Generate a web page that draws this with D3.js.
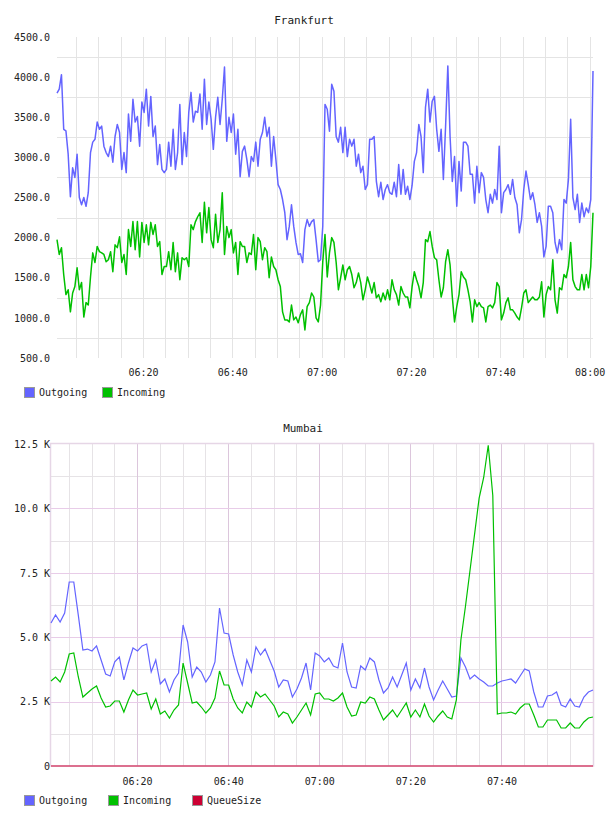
<!DOCTYPE html>
<html>
<head>
<meta charset="utf-8">
<script src="https://cdnjs.cloudflare.com/ajax/libs/d3/7.8.5/d3.min.js"></script>
<style>
  body { margin: 0; background: #fff; }
  svg text { font-family: "DejaVu Sans Mono", monospace; fill: #222; }
</style>
</head>
<body>
<div id="plot"></div>
<script>
// Frankfurt: one sample every 30 s starting 06:00:45
var fraStart = "06:00:45", fraStepSec = 30;
var fraOutgoing = [
  3800, 3850, 4030, 3350, 3330, 3040, 2510, 2870, 2750, 3040,
  2500, 2410, 2500, 2390, 2560, 3060, 3190, 3225, 3440, 3350,
  3390, 3140, 3060, 3010, 3140, 2940, 3260, 3410, 3310, 2850,
  3060, 2810, 3540, 3200, 3725, 3440, 3510, 3140, 3690, 3560,
  3850, 3390, 3760, 3260, 3390, 2910, 3160, 2850, 2810, 2850,
  3190, 2890, 3350, 2850, 3060, 3660, 2910, 3310, 3010, 3560,
  3810, 3440, 3575, 3560, 3790, 3350, 3975, 3410, 3690, 3475,
  3100, 3500, 3750, 3410, 3725, 4125, 3200, 3500, 3310, 3540,
  3040, 3350, 2760, 3075, 3140, 2975, 2760, 3010, 2950, 3190,
  2890, 3225, 3310, 3500, 3260, 3375, 2890, 3260, 2975, 2660,
  2600, 2475, 2310, 1975, 2140, 2410, 2140, 1940, 1790, 1800,
  1690, 2100, 2225, 2140, 2200, 2225, 1975, 1700, 1725, 2140,
  3660, 3600, 3325, 3910, 3825, 3260, 3190, 3375, 3060, 3375,
  3010, 3225, 3140, 3225, 2890, 3040, 2810, 2890, 2600, 2660,
  3225, 3225, 3260, 2700, 2510, 2690, 2475, 2600, 2660, 2560,
  2540, 2690, 2510, 2910, 2540, 2850, 2540, 2640, 2475, 2650,
  2950, 3060, 3410, 3260, 2810, 3625, 3850, 3440, 3700, 3760,
  3350, 3075, 3350, 2725, 3390, 4140, 3260, 2700, 3010, 2390,
  2950, 2580, 3190, 3190, 3140, 2790, 2790, 2430, 2890, 2560,
  2810, 2750, 2475, 2310, 2540, 2430, 2600, 2475, 3140, 2310,
  2560, 2600, 2660, 2540, 2725, 2500, 2410, 2060, 2225, 2600,
  2830, 2660, 2475, 2560, 2410, 2190, 2310, 2140, 1760, 1890,
  2390, 2390, 2310, 1940, 1810, 1975, 1850, 2475, 2430, 2725,
  3475, 2500, 2350, 2540, 2190, 2430, 2260, 2370, 2310, 2475,
  4075
];
var fraIncoming = [
  1975, 1790, 1875, 1540, 1290, 1350, 1075, 1310, 1390, 1625,
  1350, 1440, 1010, 1190, 1160, 1510, 1810, 1690, 1890, 1825,
  1810, 1790, 1700, 1725, 1825, 1575, 1910, 1875, 2010, 1690,
  1790, 1540, 2100, 1890, 2200, 1850, 2200, 1760, 2190, 1940,
  2160, 1910, 2190, 2040, 2160, 1890, 1950, 1540, 1640, 1640,
  1825, 1600, 1940, 1575, 1810, 1475, 1750, 1725, 1750, 1640,
  2160, 2100, 2200, 2260, 2310, 1940, 2440, 2060, 2375, 1975,
  1875, 2290, 1940, 2100, 2560, 1790, 2140, 2000, 2100, 1810,
  1940, 1540, 1950, 1890, 1890, 1690, 1810, 1790, 2040, 1600,
  2000, 1950, 1725, 1875, 1825, 1500, 1760, 1640, 1600, 1475,
  1390, 1075, 975, 975, 950, 1160, 975, 1010, 940, 1040,
  1100, 850, 1140, 1190, 1310, 1260, 1000, 950, 1160, 1700,
  2040, 1510, 1810, 2000, 1940, 1690, 1350, 1500, 1660, 1475,
  1600, 1640, 1540, 1375, 1440, 1560, 1440, 1225, 1350, 1510,
  1415, 1310, 1440, 1250, 1290, 1200, 1310, 1225, 1350, 1225,
  1475, 1350, 1290, 1160, 1390, 1310, 1260, 1260, 1125, 1390,
  1575, 1475, 1390, 1250, 1440, 1975, 1950, 2075, 1890, 1750,
  1725, 1475, 1260, 1375, 1700, 1850, 1660, 1260, 950, 1140,
  1290, 1575, 1510, 1475, 1350, 1200, 950, 1225, 1140, 1190,
  1140, 1125, 950, 1140, 1160, 1125, 1190, 1440, 1390, 975,
  1060, 1190, 1250, 1100, 1100, 1060, 1010, 975, 1125, 1310,
  1350, 1190, 1225, 1260, 1225, 1225, 1260, 1450, 1010, 1290,
  1390, 1350, 1725, 1225, 1060, 1375, 1350, 1540, 1500, 1640,
  1940, 1475, 1390, 1350, 1350, 1540, 1350, 1540, 1375, 1640,
  2310
];
var fraXTicks = ["06:20", "06:40", "07:00", "07:20", "07:40", "08:00"];
var fraYTicks = [500, 1000, 1500, 2000, 2500, 3000, 3500, 4000, 4500];

// Mumbai: one sample per minute starting 06:01:06
var mumStart = "06:01:06", mumStepSec = 60;
var mumOutgoing = [
  5551, 5862, 5590, 5940, 7143, 7143, 5850, 4503, 4540, 4465,
  4660, 4115, 3570, 3494, 4040, 4230, 3340, 4000, 4580, 4465,
  4660, 4736, 3650, 4115, 3183, 3377, 2873, 3340, 3610, 5474,
  4814, 3455, 3843, 3650, 3260, 3533, 4040, 6133, 5163, 5124,
  4309, 3650, 3144, 4115, 3650, 4620, 4309, 4540, 4115, 3688,
  3067, 3340, 3300, 2678, 2990, 3416, 3998, 2950, 4387, 4270,
  4040, 4193, 3882, 3804, 4775, 3650, 3067, 3028, 3882, 3727,
  4193, 4040, 3340, 2833, 3028, 3455, 3067, 3533, 3998, 2950,
  3377, 3028, 3804, 3067, 2562, 2950, 3300, 2990, 2678, 2717,
  4193, 3843, 3377, 3533, 3377, 3260, 3105, 3105, 3222, 3300,
  3340, 3377, 3222, 3494, 3765, 3688, 2873, 2290, 2290, 2717,
  2756, 2873, 2368, 2290, 2600, 2329, 2290, 2678, 2873, 2950
];
var mumIncoming = [
  3300, 3455, 3260, 3650, 4348, 4387, 3455, 2678, 2833, 2990,
  3105, 2640, 2290, 2329, 2523, 2523, 2096, 2562, 2950, 2756,
  2795, 2833, 2213, 2600, 2019, 2135, 1863, 2174, 2368, 3998,
  3222, 2446, 2484, 2290, 2057, 2251, 2640, 3688, 3144, 3144,
  2600, 2251, 2057, 2484, 2290, 2873, 2678, 2795, 2562, 2329,
  1902, 2096, 2019, 1669, 1902, 2174, 2446, 1980, 2795, 2833,
  2600, 2600, 2523, 2640, 2833, 2290, 1941, 1980, 2484, 2446,
  2678, 2600, 2174, 1786, 1980, 2174, 1902, 2174, 2446, 1902,
  2174, 1902, 2407, 1941, 1708, 1941, 2135, 1902, 1824, 2562,
  4900, 6200, 7600, 9000, 10400, 11200, 12450, 10500, 2019, 2057,
  2057, 2096, 2019, 2251, 2407, 2407, 1980, 1514, 1514, 1786,
  1786, 1786, 1475, 1475, 1669, 1475, 1475, 1708, 1863, 1902
];
var mumQueue = [
  0, 0, 0, 0, 0, 0, 0, 0, 0, 0, 0, 0, 0, 0, 0, 0, 0, 0, 0, 0,
  0, 0, 0, 0, 0, 0, 0, 0, 0, 0, 0, 0, 0, 0, 0, 0, 0, 0, 0, 0,
  0, 0, 0, 0, 0, 0, 0, 0, 0, 0, 0, 0, 0, 0, 0, 0, 0, 0, 0, 0,
  0, 0, 0, 0, 0, 0, 0, 0, 0, 0, 0, 0, 0, 0, 0, 0, 0, 0, 0, 0,
  0, 0, 0, 0, 0, 0, 0, 0, 0, 0, 0, 0, 0, 0, 0, 0, 0, 0, 0, 0,
  0, 0, 0, 0, 0, 0, 0, 0, 0, 0, 0, 0, 0, 0, 0, 0, 0, 0, 0, 0
];
var mumXTicks = ["06:20", "06:40", "07:00", "07:20", "07:40"];
var mumYTicks = [0, 2500, 5000, 7500, 10000, 12500];

var parseHM = d3.timeParse("%H:%M"),
    parseHMS = d3.timeParse("%H:%M:%S");

var blue = "#6464ff", green = "#00c000", red = "#cc0033";

var svg = d3.select("#plot")
  .append("svg")
    .attr("width", 608)
    .attr("height", 816);

function timesFor(start, stepSec, n) {
  var t0 = parseHMS(start);
  return d3.range(n).map(i => d3.timeSecond.offset(t0, i * stepSec));
}

// ---------- Frankfurt ----------
var fraTimes = timesFor(fraStart, fraStepSec, fraOutgoing.length);

var x1 = d3.scaleTime()
  .domain([fraTimes[0], fraTimes[fraTimes.length - 1]])
  .range([57, 593]);

var y1 = d3.scaleLinear()
  .domain([500, 4500])
  .range([358, 37]);

var g1 = svg.append("g");

g1.append("text")
  .attr("x", 304).attr("y", 24)
  .attr("text-anchor", "middle")
  .style("font-size", "11px")
  .text("Frankfurt");

// grid
g1.append("g").selectAll("line")
  .data(x1.ticks(d3.timeMinute.every(5)))
  .join("line")
    .attr("x1", d => Math.round(x1(d)) + 0.5).attr("x2", d => Math.round(x1(d)) + 0.5)
    .attr("y1", 37).attr("y2", 358)
    .attr("stroke", "#e4e4e4");

g1.append("g").selectAll("line")
  .data(d3.range(750, 4500, 500))
  .join("line")
    .attr("x1", 57).attr("x2", 593)
    .attr("y1", d => Math.round(y1(d)) + 0.5).attr("y2", d => Math.round(y1(d)) + 0.5)
    .attr("stroke", "#e4e4e4");

g1.append("g")
  .attr("transform", "translate(57,0)")
  .call(d3.axisLeft(y1).tickValues(fraYTicks).tickFormat(d3.format(".1f")).tickSize(0).tickPadding(7))
  .call(g => g.select(".domain").remove())
  .selectAll("text").style("font-size", "10px").attr("font-family", null);

g1.append("g")
  .attr("transform", "translate(0,358)")
  .call(d3.axisBottom(x1).tickValues(fraXTicks.map(parseHM)).tickFormat(d3.timeFormat("%H:%M")).tickSize(0).tickPadding(11))
  .call(g => g.select(".domain").remove())
  .selectAll("text").style("font-size", "10px").attr("font-family", null);

var line1 = d3.line()
  .x((d, i) => x1(fraTimes[i]))
  .y(d => y1(d));

g1.append("path")
  .datum(fraOutgoing)
  .attr("fill", "none").attr("stroke", blue).attr("stroke-width", 1.5)
  .attr("stroke-linejoin", "round")
  .attr("d", line1);

g1.append("path")
  .datum(fraIncoming)
  .attr("fill", "none").attr("stroke", green).attr("stroke-width", 1.5)
  .attr("stroke-linejoin", "round")
  .attr("d", line1);

// ---------- Mumbai ----------
var mumTimes = timesFor(mumStart, mumStepSec, mumOutgoing.length);

var x2 = d3.scaleTime()
  .domain([mumTimes[0], mumTimes[mumTimes.length - 1]])
  .range([51, 593]);

var y2 = d3.scaleLinear()
  .domain([0, 12500])
  .range([766, 444]);

var g2 = svg.append("g");

g2.append("text")
  .attr("x", 303).attr("y", 432)
  .attr("text-anchor", "middle")
  .style("font-size", "11px")
  .text("Mumbai");

var minorX = x2.ticks(d3.timeMinute.every(5)).filter(d => d.getMinutes() % 20 != 0);
var majorX = x2.ticks(d3.timeMinute.every(20));

g2.append("g").selectAll("line")
  .data(minorX)
  .join("line")
    .attr("x1", d => Math.round(x2(d)) + 0.5).attr("x2", d => Math.round(x2(d)) + 0.5)
    .attr("y1", 444).attr("y2", 766)
    .attr("stroke", "#e6e3e6");

g2.append("g").selectAll("line")
  .data(d3.range(1250, 12500, 2500))
  .join("line")
    .attr("x1", 51).attr("x2", 593)
    .attr("y1", d => Math.round(y2(d)) + 0.5).attr("y2", d => Math.round(y2(d)) + 0.5)
    .attr("stroke", "#e6e3e6");

g2.append("g").selectAll("line")
  .data(majorX)
  .join("line")
    .attr("x1", d => Math.round(x2(d)) + 0.5).attr("x2", d => Math.round(x2(d)) + 0.5)
    .attr("y1", 444).attr("y2", 766)
    .attr("stroke", "#dcc6dc");

g2.append("g").selectAll("line")
  .data(mumYTicks.slice(1, -1))
  .join("line")
    .attr("x1", 51).attr("x2", 593)
    .attr("y1", d => Math.round(y2(d)) + 0.5).attr("y2", d => Math.round(y2(d)) + 0.5)
    .attr("stroke", "#e8cce8");

g2.append("rect")
  .attr("x", 50.5).attr("y", 443.5)
  .attr("width", 543).attr("height", 322.5)
  .attr("fill", "none").attr("stroke", "#e6d6e6").attr("stroke-width", 1.5);

g2.append("g")
  .attr("transform", "translate(51,0)")
  .call(d3.axisLeft(y2).tickValues(mumYTicks)
    .tickFormat(d => d == 0 ? "0" : (d / 1000).toFixed(1) + " K").tickSize(0).tickPadding(1))
  .call(g => g.select(".domain").remove())
  .selectAll("text").style("font-size", "10px").attr("font-family", null);

g2.append("g")
  .attr("transform", "translate(0,766)")
  .call(d3.axisBottom(x2).tickValues(mumXTicks.map(parseHM)).tickFormat(d3.timeFormat("%H:%M")).tickSize(0).tickPadding(12))
  .call(g => g.select(".domain").remove())
  .selectAll("text").style("font-size", "10px").attr("font-family", null);

var line2 = d3.line()
  .x((d, i) => x2(mumTimes[i]))
  .y(d => y2(d));

g2.append("path")
  .datum(mumOutgoing)
  .attr("fill", "none").attr("stroke", blue).attr("stroke-width", 1.2)
  .attr("d", line2);

g2.append("path")
  .datum(mumIncoming)
  .attr("fill", "none").attr("stroke", green).attr("stroke-width", 1.2)
  .attr("d", line2);

g2.append("path")
  .datum(mumQueue)
  .attr("fill", "none").attr("stroke", red).attr("stroke-width", 1.2)
  .attr("d", line2);

// ---------- legends ----------
function legend(items, y) {
  var lg = svg.append("g");
  items.forEach(function (it) {
    lg.append("rect")
      .attr("x", it.x + 0.5).attr("y", y + 0.5)
      .attr("width", 10).attr("height", 10)
      .attr("fill", it.color).attr("stroke", "#999");
    lg.append("text")
      .attr("x", it.x + 15).attr("y", y + 9)
      .style("font-size", "10px")
      .text(it.name);
  });
}

legend([{name: "Outgoing", color: blue, x: 24}, {name: "Incoming", color: green, x: 102}], 387);
legend([{name: "Outgoing", color: blue, x: 24}, {name: "Incoming", color: green, x: 108},
        {name: "QueueSize", color: red, x: 192}], 795);
</script>
</body>
</html>
